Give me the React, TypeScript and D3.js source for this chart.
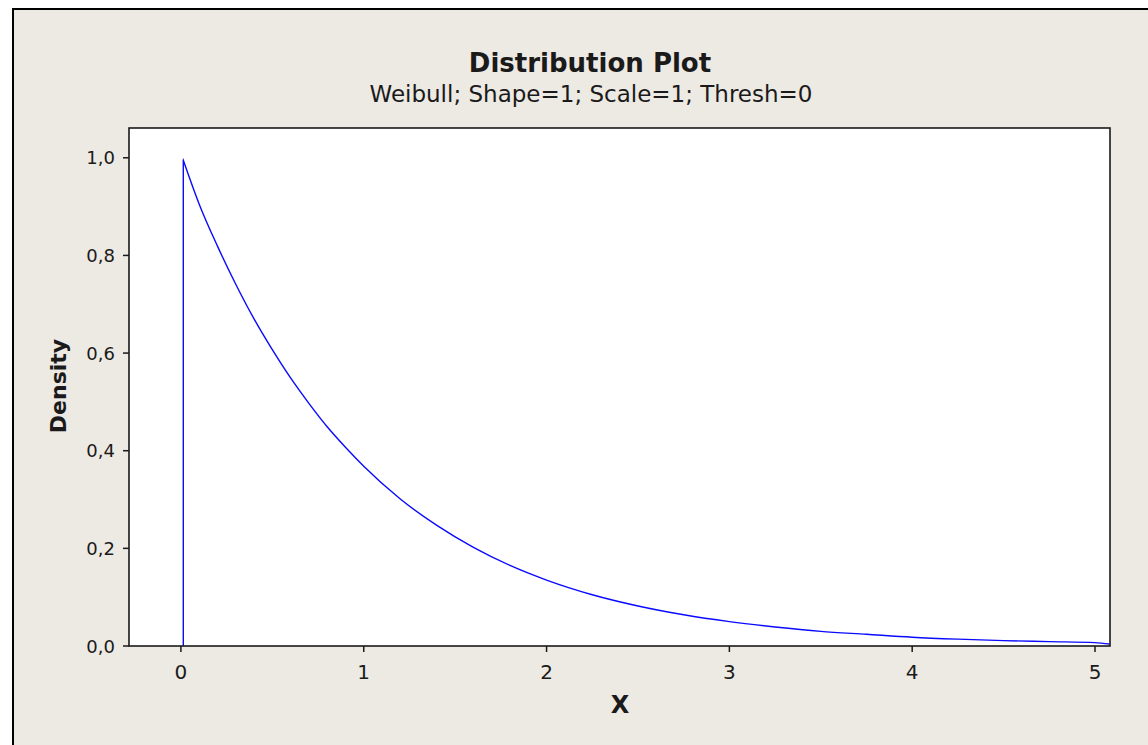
import React, { useEffect, useRef } from "react";
import * as d3 from "d3";

const xValues = [0.013, 0.1, 0.2, 0.3, 0.4, 0.5, 0.6, 0.7, 0.8, 0.9, 1.0, 1.2, 1.4, 1.6, 1.8, 2.0, 2.25, 2.5, 2.75, 3.0, 3.25, 3.5, 3.75, 4.0, 4.25, 4.5, 4.75, 5.0, 5.08];
const densityValues = [0.995, 0.905, 0.819, 0.741, 0.67, 0.607, 0.549, 0.497, 0.449, 0.407, 0.368, 0.301, 0.247, 0.202, 0.165, 0.135, 0.105, 0.082, 0.064, 0.05, 0.039, 0.03, 0.024, 0.018, 0.014, 0.011, 0.009, 0.007, 0.004];
const xTicks = [0, 1, 2, 3, 4, 5];
const yTicks = [0, 0.2, 0.4, 0.6, 0.8, 1.0];
const title = "Distribution Plot";
const subtitle = "Weibull; Shape=1; Scale=1; Thresh=0";
const xLabel = "X";
const yLabel = "Density";

const W = 1148;
const H = 745;
const plot = { left: 129, top: 128, right: 1110, bottom: 646 };
const FONT = "'DejaVu Sans', Verdana, sans-serif";
const BG = "#ede9e3";
const INK = "#1a1a1a";

export default function App() {
  const ref = useRef<SVGSVGElement>(null);
  useEffect(() => {
    const svg = d3.select(ref.current);
    svg.selectAll("*").remove();

    const x = d3.scaleLinear().domain([-0.284, 5.082]).range([plot.left, plot.right]);
    const y = d3.scaleLinear().domain([0, 1.061]).range([plot.bottom, plot.top]);

    svg.append("rect").attr("x", 13).attr("y", 9).attr("width", W).attr("height", H)
      .attr("fill", BG).attr("stroke", "#000").attr("stroke-width", 2);

    svg.append("rect").attr("x", plot.left).attr("y", plot.top)
      .attr("width", plot.right - plot.left).attr("height", plot.bottom - plot.top)
      .attr("fill", "#fff");

    // curve
    const pts: [number, number][] = xValues.map((v, i) => [v, densityValues[i]]);
    const line = d3.line<[number, number]>().x(d => x(d[0])).y(d => y(d[1])).curve(d3.curveMonotoneX);
    svg.append("path")
      .attr("d", `M${x(xValues[0])},${y(0)}L${x(xValues[0])},${y(densityValues[0])}` + (line(pts) || "").replace(/^M/, "L"))
      .attr("fill", "none").attr("stroke", "#0a0aff").attr("stroke-width", 1.4);

    // frame
    svg.append("rect").attr("x", plot.left).attr("y", plot.top)
      .attr("width", plot.right - plot.left).attr("height", plot.bottom - plot.top)
      .attr("fill", "none").attr("stroke", INK).attr("stroke-width", 1.6);

    // x ticks
    xTicks.forEach(t => {
      svg.append("line").attr("x1", x(t)).attr("x2", x(t)).attr("y1", plot.bottom).attr("y2", plot.bottom + 6)
        .attr("stroke", INK).attr("stroke-width", 1.5);
      svg.append("text").attr("x", x(t)).attr("y", 679).attr("text-anchor", "middle")
        .attr("font-family", FONT).attr("font-size", 20).attr("fill", INK).text(String(t));
    });
    // y ticks
    const fmt = (v: number) => v.toFixed(1).replace(".", ",");
    yTicks.forEach(t => {
      svg.append("line").attr("x1", plot.left - 6).attr("x2", plot.left).attr("y1", y(t)).attr("y2", y(t))
        .attr("stroke", INK).attr("stroke-width", 1.5);
      svg.append("text").attr("x", 115).attr("y", y(t) + 6.5).attr("text-anchor", "end")
        .attr("font-family", FONT).attr("font-size", 18).attr("fill", INK).text(fmt(t));
    });

    svg.append("text").attr("x", 590).attr("y", 72).attr("text-anchor", "middle")
      .attr("font-family", FONT).attr("font-weight", "bold").attr("font-size", 26).attr("fill", INK).text(title);
    svg.append("text").attr("x", 591).attr("y", 102).attr("text-anchor", "middle")
      .attr("font-family", FONT).attr("font-size", 23).attr("fill", INK).text(subtitle);
    svg.append("text").attr("x", 620).attr("y", 713).attr("text-anchor", "middle")
      .attr("font-family", FONT).attr("font-weight", "bold").attr("font-size", 24).attr("fill", INK).text(xLabel);
    svg.append("text").attr("transform", `translate(66,386) rotate(-90)`).attr("text-anchor", "middle")
      .attr("font-family", FONT).attr("font-weight", "bold").attr("font-size", 22).attr("fill", INK).text(yLabel);
  }, []);

  return (
    <svg ref={ref} width={W} height={H} style={{ position: "absolute", left: 0, top: 0, background: "#fff" }} />
  );
}
